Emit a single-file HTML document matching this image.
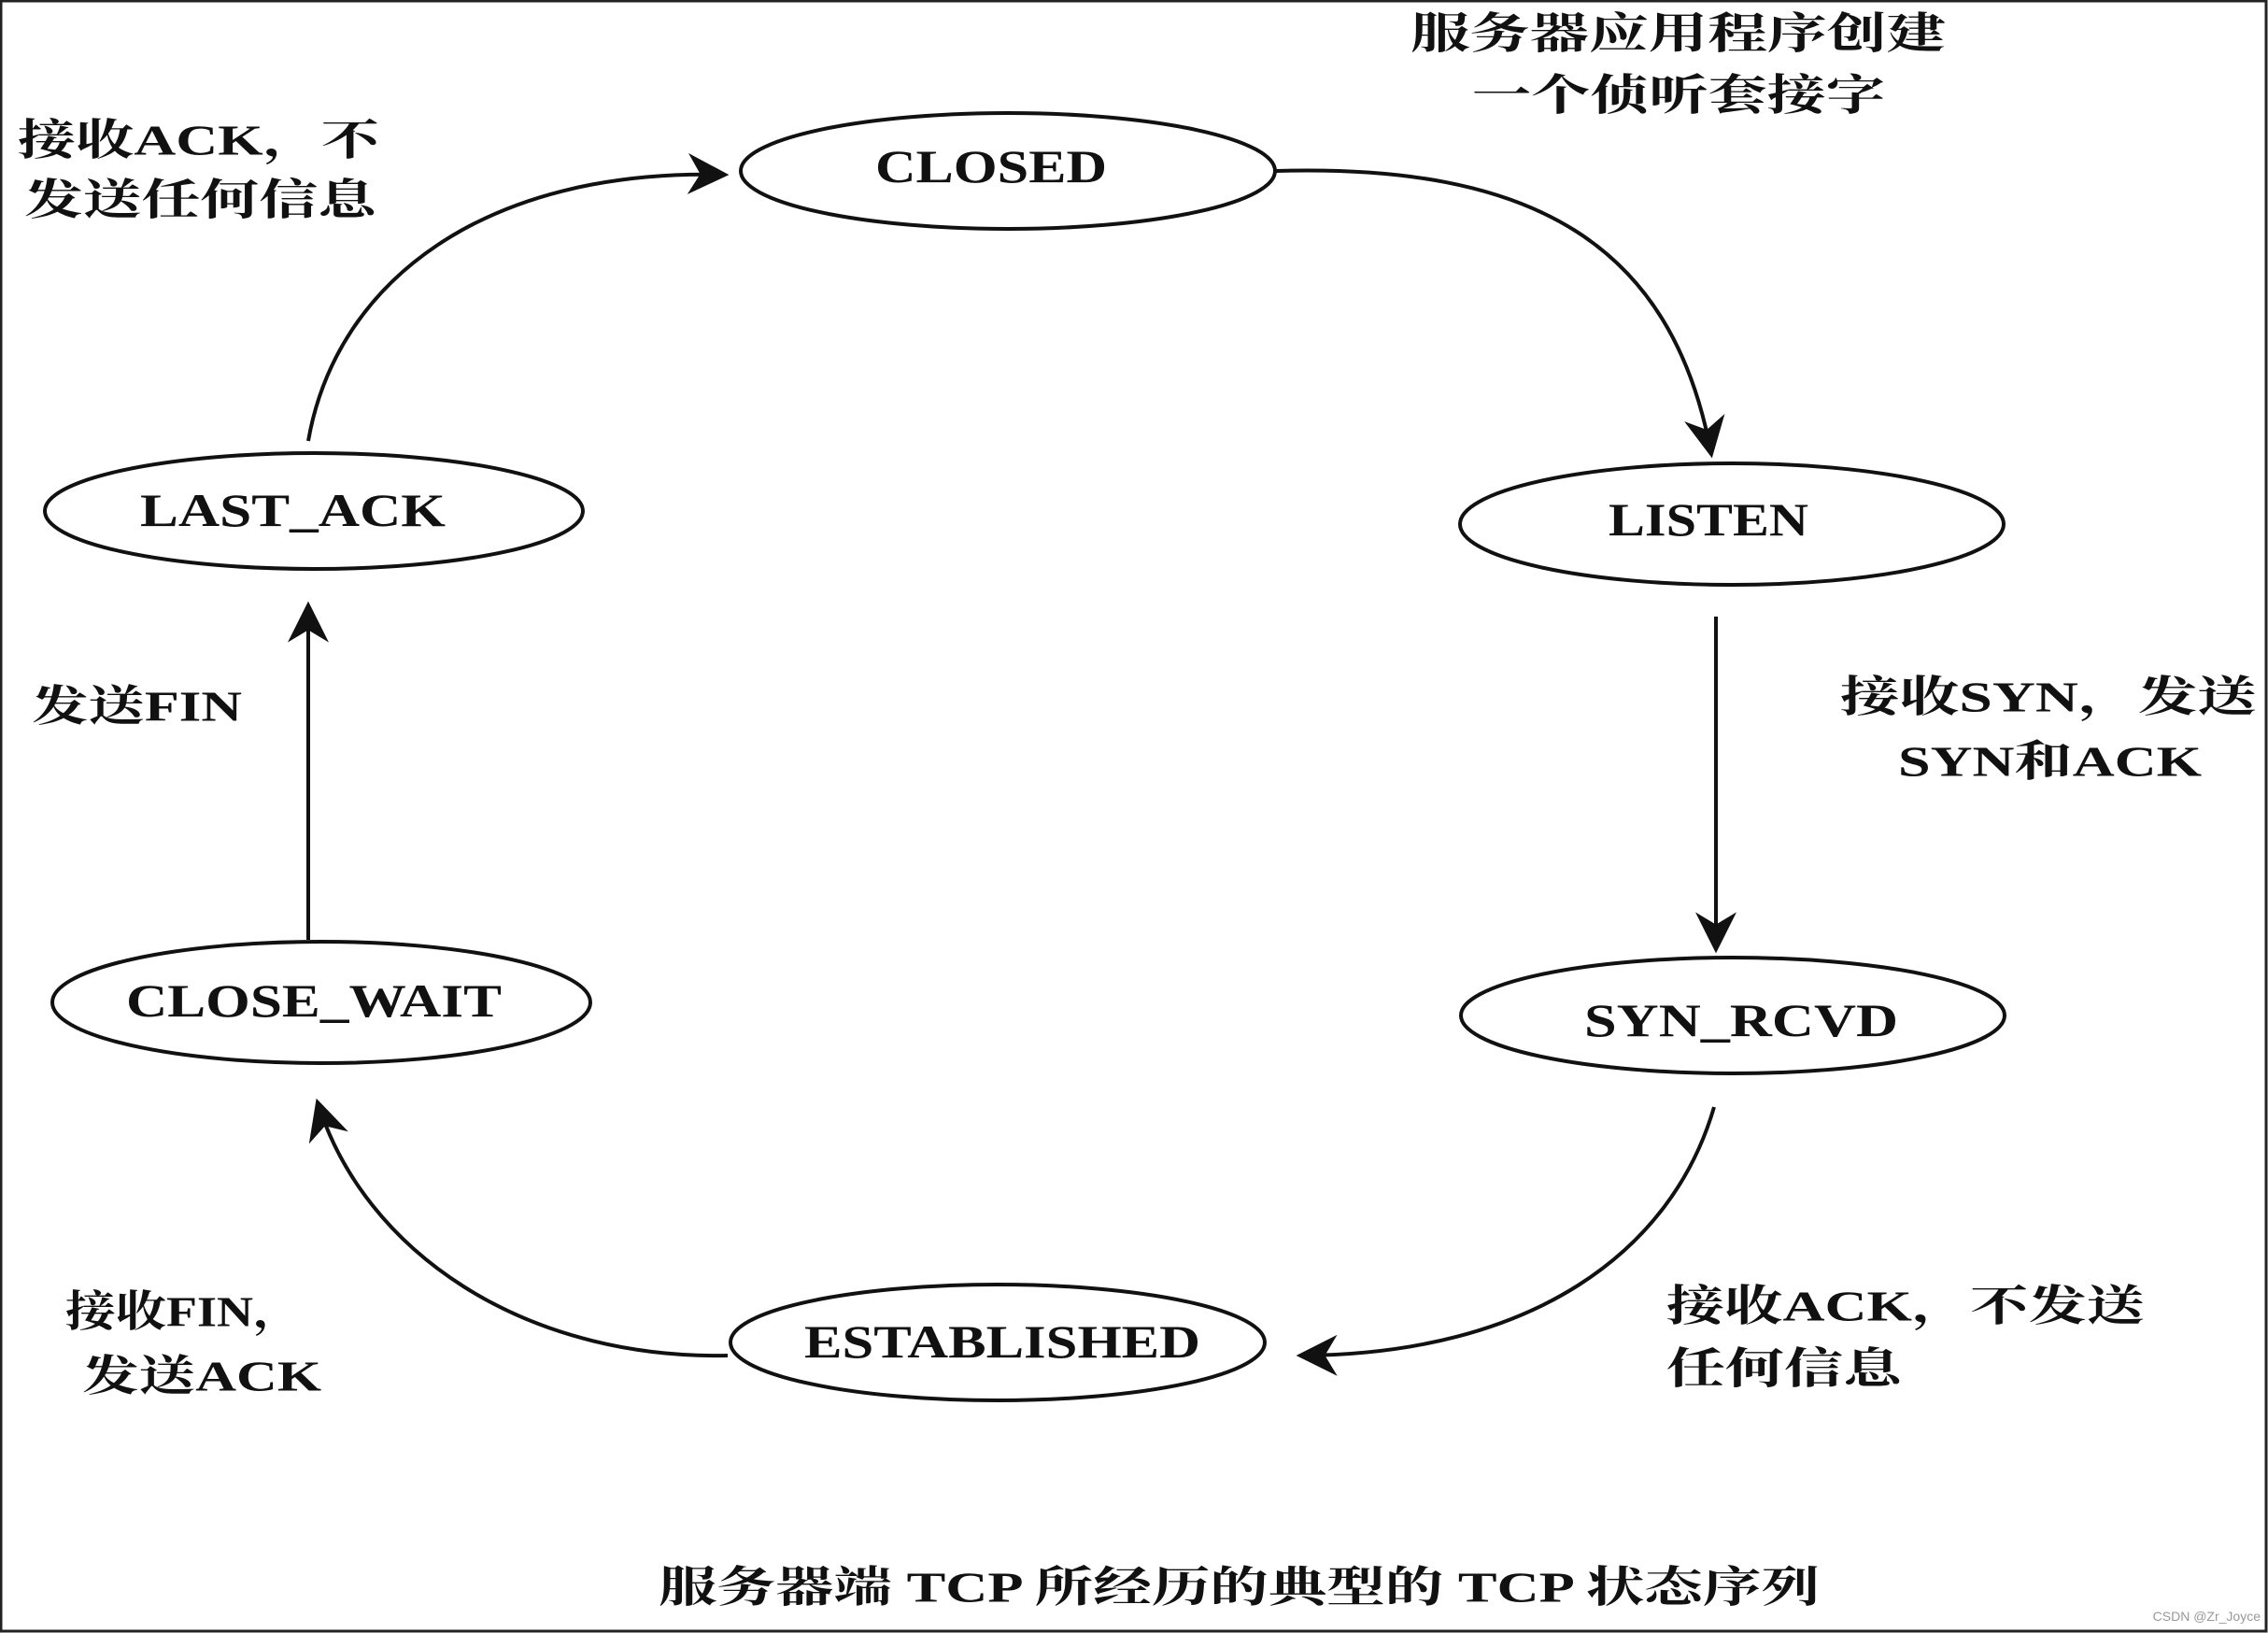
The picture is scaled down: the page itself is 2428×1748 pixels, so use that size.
<!DOCTYPE html>
<html><head><meta charset="utf-8"><style>
html,body{margin:0;padding:0;background:#fff;}
svg{display:block;}
text{font-family:"Liberation Serif","Noto Serif CJK SC","Noto Sans CJK SC",serif;fill:#111;}
.s{font-weight:bold;font-size:50px;dominant-baseline:central;}
.l{font-size:46px;font-weight:bold;dominant-baseline:central;}
</style></head><body>
<svg width="2428" height="1748" viewBox="0 0 2428 1748" xmlns="http://www.w3.org/2000/svg">
<defs>
<marker id="ar" viewBox="0 0 20 20" refX="18" refY="10" markerWidth="44" markerHeight="44" orient="auto" markerUnits="userSpaceOnUse">
<path d="M0,0 L20,10 L0,20 L6,10 Z" fill="#111"/>
</marker>
</defs>
<rect x="1" y="1" width="2425" height="1745" fill="none" stroke="#222" stroke-width="3"/>
<g fill="none" stroke="#111" stroke-width="4">
<ellipse cx="1079" cy="183" rx="286" ry="62"/>
<ellipse cx="1854" cy="561" rx="291" ry="65"/>
<ellipse cx="1855" cy="1087" rx="291" ry="62"/>
<ellipse cx="1068" cy="1437" rx="286" ry="62"/>
<ellipse cx="344" cy="1073" rx="288" ry="65"/>
<ellipse cx="336" cy="547" rx="288" ry="62"/>
<path d="M1366,183 C1640,175 1790,260 1832,486" marker-end="url(#ar)"/>
<path d="M1837,660 L1837,1016" marker-end="url(#ar)"/>
<path d="M1835,1185 C1790,1340 1640,1450 1392,1451" marker-end="url(#ar)"/>
<path d="M779,1451 C560,1455 390,1340 340,1180" marker-end="url(#ar)"/>
<path d="M330,1006 L330,648" marker-end="url(#ar)"/>
<path d="M330,472 C360,300 520,180 776,187" marker-end="url(#ar)"/>
</g>
<g lengthAdjust="spacingAndGlyphs">
<text class="s" x="937" y="178" textLength="248" lengthAdjust="spacingAndGlyphs">CLOSED</text>
<text class="s" x="1722" y="556" textLength="214" lengthAdjust="spacingAndGlyphs">LISTEN</text>
<text class="s" x="1696" y="1092" textLength="336" lengthAdjust="spacingAndGlyphs">SYN_RCVD</text>
<text class="s" x="861" y="1436" textLength="424" lengthAdjust="spacingAndGlyphs">ESTABLISHED</text>
<text class="s" x="135" y="1071" textLength="402" lengthAdjust="spacingAndGlyphs">CLOSE_WAIT</text>
<text class="s" x="150" y="546" textLength="327" lengthAdjust="spacingAndGlyphs">LAST_ACK</text>
<text class="l" x="1510" y="36" textLength="573" lengthAdjust="spacingAndGlyphs">服务器应用程序创建</text>
<text class="l" x="1576" y="102" textLength="442" lengthAdjust="spacingAndGlyphs">一个侦听套接字</text>
<text class="l" x="19" y="150" textLength="387" lengthAdjust="spacingAndGlyphs">接收ACK，不</text>
<text class="l" x="26" y="214" textLength="377" lengthAdjust="spacingAndGlyphs">发送任何信息</text>
<text class="l" x="1970" y="746" textLength="446" lengthAdjust="spacingAndGlyphs">接收SYN，发送</text>
<text class="l" x="2032" y="815" textLength="325" lengthAdjust="spacingAndGlyphs">SYN和ACK</text>
<text class="l" x="1784" y="1398" textLength="512" lengthAdjust="spacingAndGlyphs">接收ACK，不发送</text>
<text class="l" x="1784" y="1465" textLength="252" lengthAdjust="spacingAndGlyphs">任何信息</text>
<text class="l" x="70" y="1404" textLength="255" lengthAdjust="spacingAndGlyphs">接收FIN，</text>
<text class="l" x="88" y="1473" textLength="256" lengthAdjust="spacingAndGlyphs">发送ACK</text>
<text class="l" x="34" y="756" textLength="225" lengthAdjust="spacingAndGlyphs">发送FIN</text>
<text class="l" x="705" y="1699" textLength="1243" lengthAdjust="spacingAndGlyphs">服务器端 TCP 所经历的典型的 TCP 状态序列</text>
</g>
<text x="2420" y="1735" style="font-family:'Liberation Sans',sans-serif;font-size:14px;fill:#999;text-anchor:end">CSDN @Zr_Joyce</text>
</svg>
</body></html>
